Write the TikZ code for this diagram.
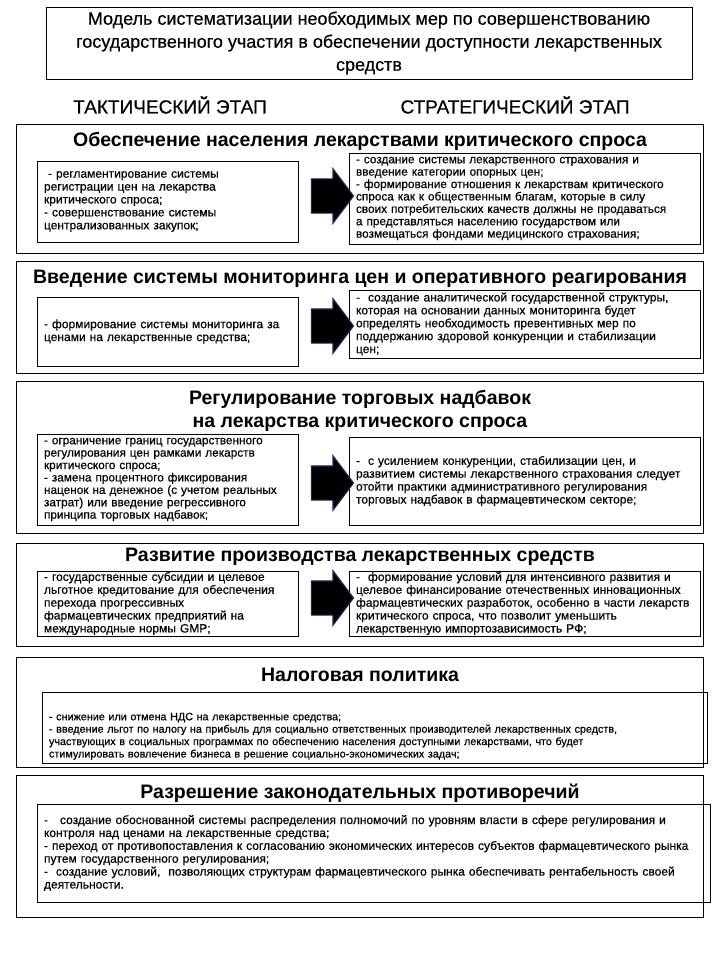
\documentclass[tikz,border=0pt]{standalone}
\usepackage{fontspec}
\setmainfont{Liberation Sans}[UprightFeatures={FakeBold=0.5}]
\usetikzlibrary{shapes.arrows, positioning, calc}

\begin{document}
\begin{tikzpicture}[x=1pt, y=-1pt,
        frame/.style={draw, line width=0.8pt},
        txtbox/.style={draw, line width=0.8pt, align=left, inner xsep=7pt, inner ysep=1pt,
            font=\fontsize{12}{12.9}\selectfont},
        head/.style={align=center, font=\bfseries\fontsize{19.5}{23}\selectfont},
        phase/.style={font=\fontsize{19}{23}\selectfont},
        bigarrow/.style={single arrow, fill=black, draw={rgb,255:red,30;green,40;blue,85},
            line width=1.2pt, minimum height=42pt, inner xsep=0pt, inner ysep=16.5pt,
            single arrow head extend=10pt, single arrow tip angle=106}]
    \useasboundingbox (0,0) rectangle (720,960);

    % заголовок и этапы
    \node[frame, minimum width=646pt, minimum height=72pt, align=center,
        font=\fontsize{18}{23}\selectfont] (title) at (369,43)
        {Модель систематизации необходимых мер по совершенствованию\\
         государственного участия в обеспечении доступности лекарственных\\
         средств};
    \node[phase] (tact) at (170,105) {ТАКТИЧЕСКИЙ ЭТАП};
    \node[phase] (strat) at (515,105) {СТРАТЕГИЧЕСКИЙ ЭТАП};

    % 1
    \draw[frame] (16,124) rectangle (703,253);
    \node[head] (h1) at (360,141) {Обеспечение населения лекарствами критического спроса};
    \node[txtbox, minimum width=261pt, minimum height=81pt, text width=247pt] (l1) at (167.5,201.5)
        {~- регламентирование системы\\ регистрации цен на лекарства\\ критического спроса;\\
         - совершенствование системы\\ централизованных закупок;};
    \node[txtbox, minimum width=351pt, minimum height=91pt, text width=337pt, inner ysep=0pt,
        font=\fontsize{11.8}{12.4}\selectfont] (r1) at (524.5,198.5)
        {- создание системы лекарственного страхования и\\ введение категории опорных цен;\\
         - формирование отношения к лекарствам критического\\ спроса как к общественным благам, которые в силу\\
         своих потребительских качеств должны не продаваться\\ а представляться населению государством или\\
         возмещаться фондами медицинского страхования;};
    \node[bigarrow] (a1) at (326,196) {};

    % 2
    \draw[frame] (16,261) rectangle (703,373);
    \node[head] (h2) at (360,279) {Введение системы мониторинга цен и оперативного реагирования};
    \node[txtbox, minimum width=261pt, minimum height=69pt, text width=247pt] (l2) at (167.5,331.5)
        {- формирование системы мониторинга за\\ ценами на лекарственные средства;};
    \node[txtbox, minimum width=351pt, minimum height=68pt, text width=337pt] (r2) at (524.5,324)
        {-~~создание аналитической государственной структуры,\\ которая на основании данных мониторинга будет\\
         определять необходимость превентивных мер по\\ поддержанию здоровой конкуренции и стабилизации\\ цен;};
    \node[bigarrow] (a2) at (326,326) {};

    % 3
    \draw[frame] (16,381) rectangle (703,533);
    \node[head] (h3) at (360,411) {Регулирование торговых надбавок\\ на лекарства критического спроса};
    \node[txtbox, minimum width=261pt, minimum height=91pt, text width=247pt, inner ysep=0pt,
        font=\fontsize{11.8}{12.4}\selectfont] (l3) at (167.5,479.5)
        {- ограничение границ государственного\\ регулирования цен рамками лекарств\\ критического спроса;\\
         - замена процентного фиксирования\\ наценок на денежное (с учетом реальных\\
         затрат) или введение регрессивного\\ принципа торговых надбавок;};
    \node[txtbox, minimum width=351pt, minimum height=88pt, text width=337pt] (r3) at (524.5,481)
        {-~~с усилением конкуренции, стабилизации цен, и\\ развитием системы лекарственного страхования следует\\
         отойти практики административного регулирования\\ торговых надбавок в фармацевтическом секторе;};
    \node[bigarrow] (a3) at (326,483) {};

    % 4
    \draw[frame] (16,543) rectangle (703,646);
    \node[head] (h4) at (360,557) {Развитие производства лекарственных средств};
    \node[txtbox, minimum width=261pt, minimum height=65pt, text width=247pt] (l4) at (167.5,603.5)
        {- государственные субсидии и целевое\\ льготное кредитование для обеспечения\\ перехода прогрессивных\\
         фармацевтических предприятий на\\ международные нормы GMP;};
    \node[txtbox, minimum width=351pt, minimum height=65pt, text width=337pt] (r4) at (524.5,603.5)
        {-~~формирование условий для интенсивного развития и\\ целевое финансирование отечественных инновационных\\
         фармацевтических разработок, особенно в части лекарств\\ критического спроса, что позволит уменьшить\\
         лекарственную импортозависимость РФ;};
    \node[bigarrow] (a4) at (326,598) {};

    % 5
    \draw[frame] (16,657) rectangle (703,767);
    \node[head] (h5) at (360,675) {Налоговая политика};
    \node[txtbox, minimum width=665pt, minimum height=71pt, text width=651pt,
        font=\fontsize{10.8}{12.4}\selectfont] (t5) at (374.5,727.5)
        {\rule{0pt}{25pt}- снижение или отмена НДС на лекарственные средства;\\
         - введение льгот по налогу на прибыль для социально ответственных производителей лекарственных средств,\\
         участвующих в социальных программах по обеспечению населения доступными лекарствами, что будет\\
         стимулировать вовлечение бизнеса в решение социально-экономических задач;};

    % 6
    \draw[frame] (16,775) rectangle (703,917);
    \node[head] (h6) at (360,793) {Разрешение законодательных противоречий};
    \node[txtbox, minimum width=673pt, minimum height=98pt, text width=659pt] (t6) at (373.5,853)
        {-~~~создание обоснованной системы распределения полномочий по уровням власти в сфере регулирования и\\
         контроля над ценами на лекарственные средства;\\
         - переход от противопоставления к согласованию экономических интересов субъектов фармацевтического рынка\\
         путем государственного регулирования;\\
         -~~создание условий,~~позволяющих структурам фармацевтического рынка обеспечивать рентабельность своей\\
         деятельности.};
\end{tikzpicture}
\end{document}
